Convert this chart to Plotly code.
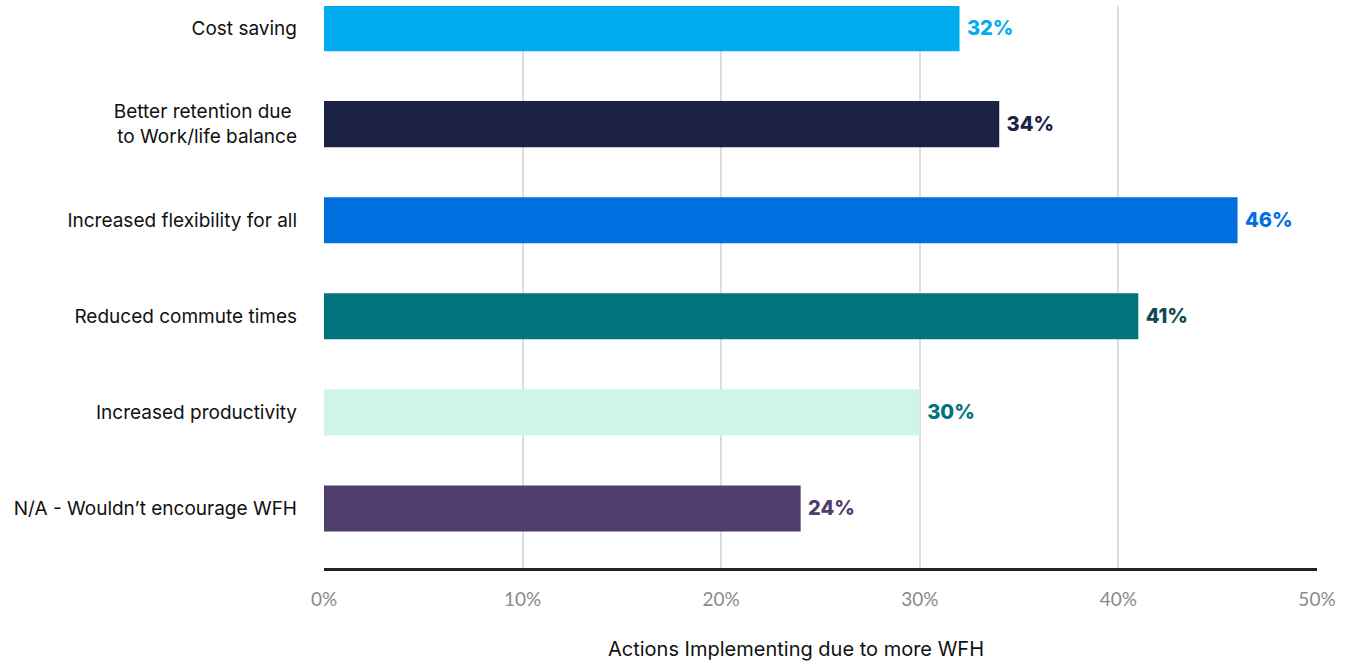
import plotly.graph_objects as go

# Survey results: benefits that would lead firms to implement more WFH
categories = [
    "Cost saving",
    "Better retention due <br>to Work/life balance",
    "Increased flexibility for all",
    "Reduced commute times",
    "Increased productivity",
    "N/A - Wouldn\u2019t encourage WFH",
]
values = [32, 34, 46, 41, 30, 24]
bar_colors = ["#00AEEF", "#1C2243", "#0070E0", "#00737C", "#CFF5E8", "#4F3D6B"]
label_colors = ["#00AEEF", "#1C2243", "#0070E0", "#0B4A50", "#00737C", "#4F3D6B"]
x_ticks = [0, 10, 20, 30, 40, 50]
x_title = "Actions Implementing due to more WFH"

fig = go.Figure(
    go.Bar(
        x=values,
        y=categories,
        orientation="h",
        marker=dict(color=bar_colors, line=dict(width=0)),
        width=0.48,
        text=[f"\u00a0{v}%" for v in values],
        textposition="outside",
        cliponaxis=False,
        textfont=dict(family="Inter", size=20, color=label_colors, weight=800),
        hoverinfo="skip",
    )
)

fig.update_layout(
    width=1351,
    height=664,
    margin=dict(l=324, r=34, t=6, b=96),
    paper_bgcolor="white",
    plot_bgcolor="white",
    showlegend=False,
    uniformtext=dict(mode=False),
    annotations=[
        dict(
            text=x_title,
            xref="paper",
            yref="paper",
            x=0.475,
            y=-0.145,
            xanchor="center",
            yanchor="middle",
            showarrow=False,
            font=dict(family="Inter", size=20, color="#111111"),
        )
    ],
)

fig.update_xaxes(
    range=[0, 50],
    tickvals=x_ticks,
    ticktext=[f"{t}%" for t in x_ticks],
    showgrid=True,
    gridcolor="#DDDDDD",
    gridwidth=1.5,
    zeroline=False,
    showline=True,
    linecolor="#222222",
    linewidth=2.5,
    ticks="",
    ticklabelstandoff=12,
    tickfont=dict(family="Lato", size=19, color="#8A8A8A"),
    automargin=False,
)

fig.update_yaxes(
    categoryorder="array",
    categoryarray=categories,
    range=[5.62, -0.23],
    showgrid=False,
    zeroline=False,
    showline=False,
    ticks="",
    ticklabelstandoff=26,
    tickfont=dict(family="Inter", size=19, color="#111111"),
    automargin=False,
)

fig.write_html("out.html")
